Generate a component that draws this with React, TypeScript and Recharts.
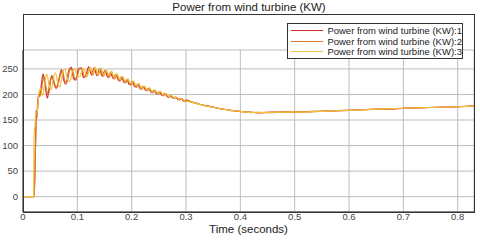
import React from "react";
import {
  LineChart,
  Line,
  XAxis,
  YAxis,
  CartesianGrid,
  Legend,
} from "recharts";

const xTicks = [0, 0.1, 0.2, 0.3, 0.4, 0.5, 0.6, 0.7, 0.8];
const yTicks = [0, 50, 100, 150, 200, 250];

const seriesNames = [
  "Power from wind turbine (KW):1",
  "Power from wind turbine (KW):2",
  "Power from wind turbine (KW):3",
];
const seriesColors = ["#d92b2b", "#d9772e", "#f0c23c"];

// series 1
const time1 = [
  0, 0.02, 0.0215, 0.023, 0.024, 0.025, 0.027, 0.029, 0.031, 0.034, 0.037, 0.041,
  0.045, 0.049, 0.053, 0.057, 0.061, 0.066, 0.071, 0.075, 0.079, 0.084, 0.089,
  0.093, 0.097, 0.102, 0.107, 0.111, 0.115, 0.121, 0.126, 0.131, 0.136, 0.141,
  0.146, 0.151, 0.156, 0.161, 0.166, 0.171, 0.176, 0.181, 0.186, 0.191, 0.196,
  0.201, 0.206, 0.211, 0.216, 0.221, 0.226, 0.231, 0.236, 0.241, 0.246, 0.251,
  0.256, 0.261, 0.266, 0.271, 0.276, 0.281, 0.286, 0.291, 0.296, 0.301, 0.31,
  0.32, 0.33, 0.34, 0.35, 0.36, 0.37, 0.38, 0.39, 0.4, 0.41, 0.42, 0.43, 0.45,
  0.48, 0.5, 0.52, 0.55, 0.58, 0.6, 0.65, 0.68, 0.7, 0.75, 0.8, 0.83,
];
const power1 = [
  0, 0, 30, 105, 168, 150, 185, 200, 196, 222, 240, 215,
  193, 220, 237, 222, 212, 230, 248, 228, 220, 245, 253,
  232, 228, 250, 252, 233, 236, 254, 238, 252, 237, 250,
  236, 247, 234, 243, 231, 239, 227, 234, 223, 229, 219,
  225, 215, 220, 211, 216, 208, 212, 204, 208, 201, 205,
  198, 202, 195, 198, 193, 195, 190, 192, 187, 189, 185,
  182.5, 179, 177.5, 175, 173, 171, 169.5, 168, 167, 165.5, 165.5, 164, 165,
  166, 165, 166.5, 167, 168.5, 169, 171.5, 171.5, 173, 174.5, 176, 177,
];

// series 2
const time2 = [
  0, 0.0205, 0.022, 0.0235, 0.025, 0.027, 0.03, 0.033, 0.036, 0.039, 0.043,
  0.047, 0.051, 0.055, 0.059, 0.063, 0.068, 0.073, 0.077, 0.081, 0.086, 0.091,
  0.095, 0.099, 0.104, 0.109, 0.113, 0.118, 0.123, 0.128, 0.133, 0.138, 0.143,
  0.148, 0.153, 0.158, 0.163, 0.168, 0.173, 0.178, 0.183, 0.188, 0.193, 0.198,
  0.203, 0.208, 0.213, 0.218, 0.223, 0.228, 0.233, 0.238, 0.243, 0.248, 0.253,
  0.258, 0.263, 0.268, 0.273, 0.278, 0.283, 0.288, 0.293, 0.298, 0.303, 0.31,
  0.32, 0.33, 0.34, 0.35, 0.36, 0.37, 0.38, 0.39, 0.4, 0.41, 0.42, 0.43, 0.45,
  0.48, 0.5, 0.53, 0.55, 0.6, 0.62, 0.65, 0.7, 0.73, 0.75, 0.8, 0.83,
];
const power2 = [
  0, 0, 50, 120, 160, 172, 205, 200, 225, 235, 210,
  200, 228, 236, 218, 214, 236, 245, 226, 224, 248, 250,
  231, 232, 251, 249, 234, 239, 253, 238, 251, 237, 249,
  236, 246, 233, 242, 230, 238, 226, 233, 222, 228, 218,
  224, 214, 219, 210, 215, 207, 211, 203, 207, 200, 204,
  197, 201, 194, 197, 192, 194, 189, 191, 186, 188, 185.5,
  182, 179.5, 177, 175.5, 172.5, 171, 169, 168, 166.5, 166, 164.5, 165, 164.5,
  165.5, 166, 166, 167.5, 169, 170, 171, 173, 173.5, 175, 176, 177.5,
];

// series 3
const time3 = [
  0, 0.0195, 0.02, 0.0205, 0.022, 0.023, 0.026, 0.029, 0.032, 0.036, 0.04,
  0.044, 0.048, 0.052, 0.056, 0.06, 0.064, 0.068, 0.072, 0.077, 0.082, 0.086,
  0.091, 0.096, 0.1, 0.105, 0.11, 0.114, 0.118, 0.123, 0.128, 0.133, 0.138,
  0.143, 0.148, 0.153, 0.158, 0.163, 0.168, 0.173, 0.178, 0.183, 0.188, 0.193,
  0.198, 0.203, 0.208, 0.213, 0.218, 0.223, 0.228, 0.233, 0.238, 0.243, 0.248,
  0.253, 0.258, 0.263, 0.268, 0.273, 0.278, 0.283, 0.288, 0.293, 0.298, 0.305,
  0.31, 0.32, 0.33, 0.34, 0.35, 0.36, 0.37, 0.38, 0.39, 0.4, 0.41, 0.42, 0.43,
  0.45, 0.48, 0.5, 0.55, 0.6, 0.65, 0.7, 0.75, 0.8, 0.83,
];
const power3 = [
  0, 0, 60, 135, 130, 160, 165, 200, 212, 198, 222,
  240, 218, 210, 232, 242, 222, 215, 238, 250, 230, 225,
  245, 250, 234, 236, 251, 246, 234, 252, 240, 253, 239,
  252, 238, 248, 237, 246, 233, 241, 229, 236, 225, 231,
  221, 227, 217, 222, 212, 217, 209, 213, 205, 209, 202,
  206, 199, 202, 196, 199, 193, 195, 190, 192, 187, 186,
  185, 182, 179, 177, 175, 173, 171, 169, 168, 167, 165.5, 165, 164.5,
  165, 165.5, 165.5, 167, 169, 171, 173, 174.5, 176, 177,
];

const toPoints = (t: number[], p: number[]) => t.map((x, i) => ({ t: x, v: p[i] }));

const series = [
  toPoints(time1, power1),
  toPoints(time2, power2),
  toPoints(time3, power3),
];

const font = "'Liberation Sans', Arial, sans-serif";

function LegendBox() {
  return (
    <div
      style={{
        border: "1px solid #333",
        background: "#fff",
        width: 174,
        height: 32,
        padding: "1px 0",
        fontFamily: font,
        fontSize: 9.5,
        color: "#222",
      }}
    >
      {seriesNames.map((n, i) => (
        <div key={n} style={{ display: "flex", alignItems: "center", height: 10.7 }}>
          <div
            style={{
              width: 35,
              height: 0,
              borderTop: `1.3px solid ${seriesColors[i]}`,
              marginLeft: 3,
              marginRight: 4,
            }}
          />
          <span style={{ whiteSpace: "nowrap" }}>{n}</span>
        </div>
      ))}
    </div>
  );
}

export default function App() {
  return (
    <div style={{ position: "absolute", left: 0, top: 0, width: 480, height: 241, background: "#fff" }}>
      <div
        style={{
          position: "absolute",
          left: 0,
          top: 0,
          width: 498,
          textAlign: "center",
          fontFamily: font,
          fontSize: 11.5,
          color: "#222",
          lineHeight: "14px",
        }}
      >
        Power from wind turbine (KW)
      </div>
      <LineChart
        width={480}
        height={241}
        margin={{ top: 14, right: 6, bottom: 0, left: 0 }}
        style={{ position: "absolute", left: 0, top: 0 }}
      >
        <CartesianGrid stroke="#bdbdbd" strokeWidth={1} />
        <XAxis
          dataKey="t"
          type="number"
          domain={[0, 0.83]}
          ticks={xTicks}
          allowDataOverflow
          height={29}
          tickLine={false}
          tickSize={0}
          axisLine={{ stroke: "#333" }}
          tick={{ fontSize: 9.5, fill: "#444", fontFamily: font }}
          tickMargin={1}
          tickFormatter={(v: number) => String(v)}
          label={{
            value: "Time (seconds)",
            position: "insideBottom",
            offset: 8,
            style: { fontSize: 11.5, fill: "#222", fontFamily: font },
          }}
        />
        <YAxis
          type="number"
          domain={[-30, 287]}
          ticks={yTicks}
          allowDataOverflow
          width={23}
          tickLine={false}
          tickSize={0}
          axisLine={{ stroke: "#333" }}
          tick={{ fontSize: 9.5, fill: "#444", fontFamily: font }}
          tickMargin={5}
        />
        <Legend
          verticalAlign="top"
          content={() => <LegendBox />}
          wrapperStyle={{ position: "absolute", left: 287, top: 23, width: 176 }}
        />
        {series.map((d, i) => (
          <Line
            key={seriesNames[i]}
            data={d}
            dataKey="v"
            name={seriesNames[i]}
            type="monotone"
            stroke={seriesColors[i]}
            strokeWidth={1.2}
            dot={false}
            isAnimationActive={false}
          />
        ))}
      </LineChart>
      <div
        style={{
          position: "absolute",
          left: 23,
          top: 14,
          width: 450,
          height: 197,
          border: "1px solid #333",
          pointerEvents: "none",
        }}
      />
    </div>
  );
}
